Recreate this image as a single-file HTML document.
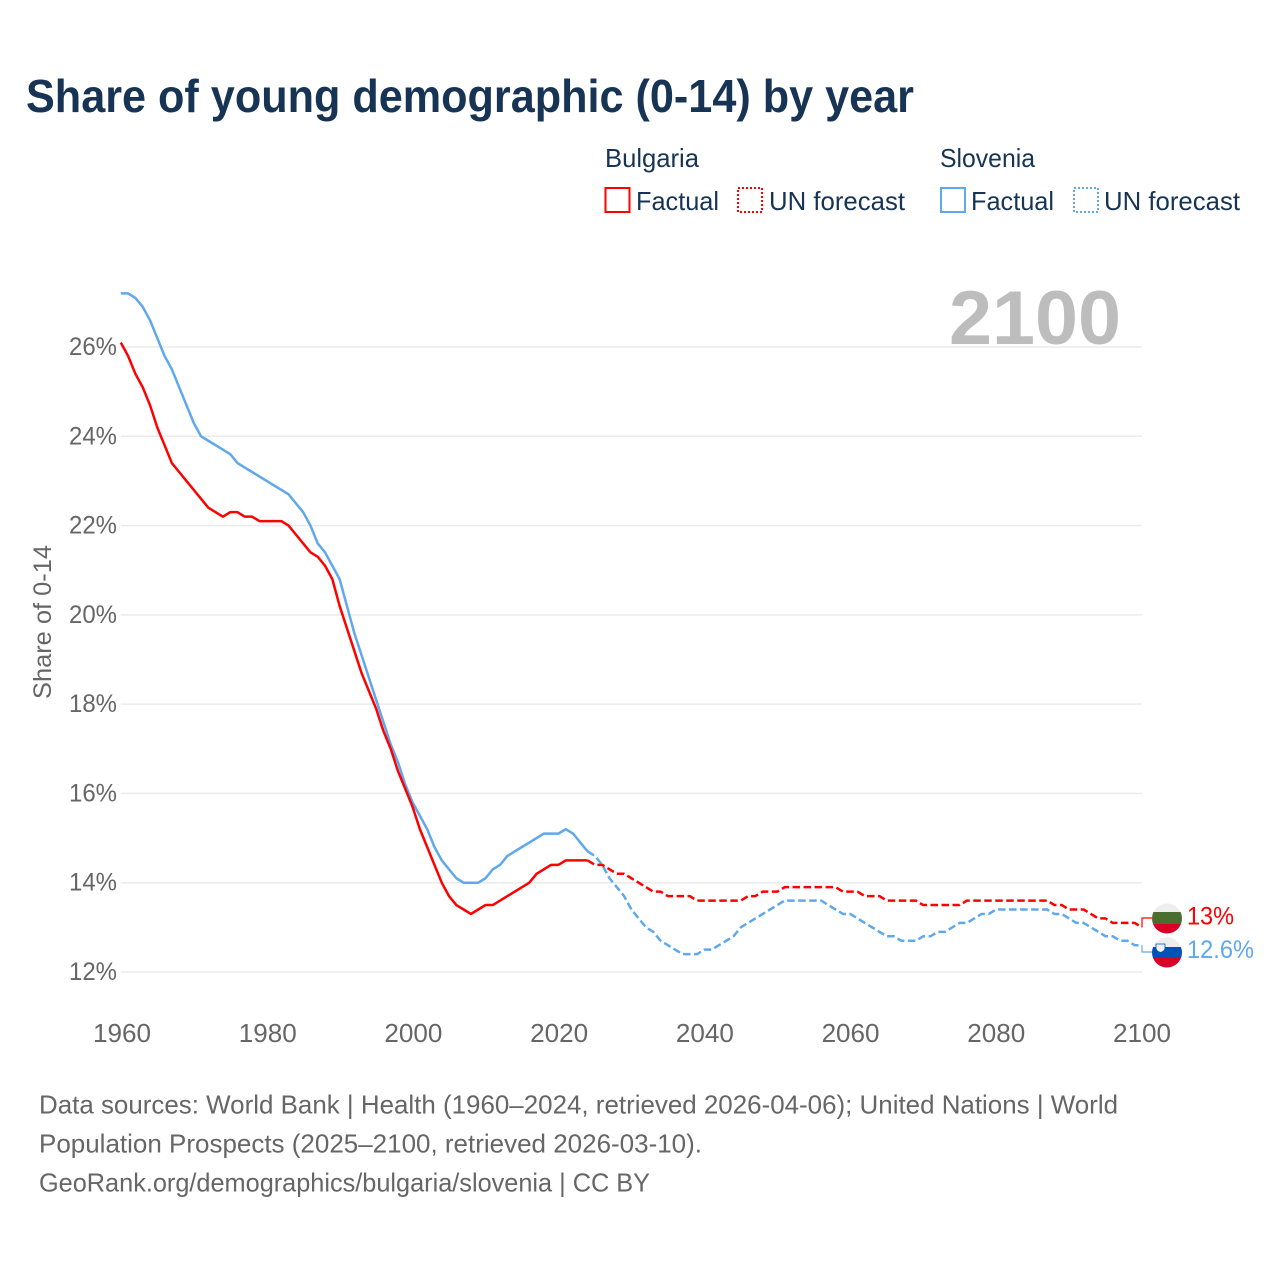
<!DOCTYPE html>
<html lang="en">
<head>
<meta charset="utf-8">
<title>Share of young demographic (0-14) by year</title>
<style>
  html, body { margin: 0; padding: 0; background: #fff; }
  svg { display: block; font-family: "Liberation Sans", sans-serif; }
  .navy { fill: #173454; }
  .grey { fill: #666; }
</style>
</head>
<body>
<svg id="chart" width="1280" height="1280" viewBox="0 0 1280 1280" xmlns="http://www.w3.org/2000/svg">
  <defs>
    <clipPath id="clip-bg"><circle cx="1167" cy="918.500" r="15"/></clipPath>
    <clipPath id="clip-si"><circle cx="1167" cy="952.500" r="15"/></clipPath>
  </defs>
  <rect width="1280" height="1280" fill="#fff"/>

  <text class="navy" x="26" y="112" font-size="46" font-weight="700" textLength="888" lengthAdjust="spacingAndGlyphs">Share of young demographic (0-14) by year</text>

  <g font-size="26">
    <text class="navy" x="605" y="167" textLength="94" lengthAdjust="spacingAndGlyphs">Bulgaria</text>
    <rect x="605.500" y="188" width="24" height="24" fill="none" stroke="#ff0000" stroke-width="2"/>
    <text class="navy" x="636" y="210" textLength="83" lengthAdjust="spacingAndGlyphs">Factual</text>
    <rect x="738" y="188" width="24" height="24" fill="none" stroke="#ff0000" stroke-width="2" stroke-dasharray="2 2"/>
    <text class="navy" x="769" y="210" textLength="136" lengthAdjust="spacingAndGlyphs">UN forecast</text>

    <text class="navy" x="940" y="167" textLength="95" lengthAdjust="spacingAndGlyphs">Slovenia</text>
    <rect x="941" y="188" width="24" height="24" fill="none" stroke="#5fa8ec" stroke-width="2"/>
    <text class="navy" x="971" y="210" textLength="83" lengthAdjust="spacingAndGlyphs">Factual</text>
    <rect x="1074" y="188" width="24" height="24" fill="none" stroke="#5fa8ec" stroke-width="2" stroke-dasharray="2 2"/>
    <text class="navy" x="1104" y="210" textLength="136" lengthAdjust="spacingAndGlyphs">UN forecast</text>
  </g>

  <g id="grid"></g>
  <text x="949" y="344" font-size="76" font-weight="700" fill="#bdbdbd" textLength="172" lengthAdjust="spacingAndGlyphs">2100</text>
  <g id="y-ticks"></g>
  <g id="x-ticks"></g>
  <text class="grey" transform="translate(51,699) rotate(-90)" font-size="25" textLength="154" lengthAdjust="spacingAndGlyphs">Share of 0-14</text>
  <g id="series"></g>

  <g clip-path="url(#clip-bg)">
    <rect x="1150" y="900" width="34" height="12" fill="#eeeeee"/>
    <rect x="1150" y="912" width="34" height="12" fill="#496e2d"/>
    <rect x="1150" y="924" width="34" height="12" fill="#d80027"/>
  </g>
  <g clip-path="url(#clip-si)">
    <rect x="1150" y="935" width="34" height="12" fill="#eeeeee"/>
    <rect x="1150" y="947" width="34" height="10" fill="#0052b4"/>
    <rect x="1150" y="957" width="34" height="12" fill="#d80027"/>
    <path d="M1156 944h9v4q0 3-4.500 4.500q-4.500-1.500-4.500-4.500z" fill="#f0f0f0" stroke="#0052b4" stroke-width="0.800"/>
  </g>

  <text id="label-bg" x="1187" y="924.500" font-size="25" fill="#ff0000" textLength="47" lengthAdjust="spacingAndGlyphs"></text>
  <text id="label-si" x="1187" y="958" font-size="25" fill="#5fa8ec" textLength="67" lengthAdjust="spacingAndGlyphs"></text>

  <g font-size="26" class="grey">
    <text class="grey" x="39" y="1113.500" textLength="1079" lengthAdjust="spacingAndGlyphs">Data sources: World Bank | Health (1960–2024, retrieved 2026-04-06); United Nations | World</text>
    <text class="grey" x="39" y="1152.500" textLength="663" lengthAdjust="spacingAndGlyphs">Population Prospects (2025–2100, retrieved 2026-03-10).</text>
    <text class="grey" x="39" y="1191.500" textLength="611" lengthAdjust="spacingAndGlyphs">GeoRank.org/demographics/bulgaria/slovenia | CC BY</text>
  </g>
</svg>
<script>
const yTickValues = [12, 14, 16, 18, 20, 22, 24, 26];
const xTickYears = [1960, 1980, 2000, 2020, 2040, 2060, 2080, 2100];
const factualStartYear = 1960;
const forecastStartYear = 2025;

const bulgariaFactual = [
  26.1,25.8,25.4,25.1,24.7,24.2,23.8,23.4,23.2,23.0,
  22.8,22.6,22.4,22.3,22.2,22.3,22.3,22.2,22.2,22.1,
  22.1,22.1,22.1,22.0,21.8,21.6,21.4,21.3,21.1,20.8,
  20.2,19.7,19.2,18.7,18.3,17.9,17.4,17.0,16.5,16.1,
  15.7,15.2,14.8,14.4,14.0,13.7,13.5,13.4,13.3,13.4,
  13.5,13.5,13.6,13.7,13.8,13.9,14.0,14.2,14.3,14.4,
  14.4,14.5,14.5,14.5,14.5
];
const bulgariaForecast = [
  14.4,14.4,14.3,14.2,14.2,
  14.1,14.0,13.9,13.8,13.8,13.7,13.7,13.7,13.7,13.6,
  13.6,13.6,13.6,13.6,13.6,13.6,13.7,13.7,13.8,13.8,
  13.8,13.9,13.9,13.9,13.9,13.9,13.9,13.9,13.9,13.8,
  13.8,13.8,13.7,13.7,13.7,13.6,13.6,13.6,13.6,13.6,
  13.5,13.5,13.5,13.5,13.5,13.5,13.6,13.6,13.6,13.6,
  13.6,13.6,13.6,13.6,13.6,13.6,13.6,13.6,13.5,13.5,
  13.4,13.4,13.4,13.3,13.2,13.2,13.1,13.1,13.1,13.1,
  13.0
];
const sloveniaFactual = [
  27.2,27.2,27.1,26.9,26.6,26.2,25.8,25.5,25.1,24.7,
  24.3,24.0,23.9,23.8,23.7,23.6,23.4,23.3,23.2,23.1,
  23.0,22.9,22.8,22.7,22.5,22.3,22.0,21.6,21.4,21.1,
  20.8,20.2,19.6,19.1,18.6,18.1,17.6,17.1,16.7,16.2,
  15.8,15.5,15.2,14.8,14.5,14.3,14.1,14.0,14.0,14.0,
  14.1,14.3,14.4,14.6,14.7,14.8,14.9,15.0,15.1,15.1,
  15.1,15.2,15.1,14.9,14.7
];
const sloveniaForecast = [
  14.6,14.4,14.1,13.9,13.7,
  13.4,13.2,13.0,12.9,12.7,12.6,12.5,12.4,12.4,12.4,
  12.5,12.5,12.6,12.7,12.8,13.0,13.1,13.2,13.3,13.4,
  13.5,13.6,13.6,13.6,13.6,13.6,13.6,13.5,13.4,13.3,
  13.3,13.2,13.1,13.0,12.9,12.8,12.8,12.7,12.7,12.7,
  12.8,12.8,12.9,12.9,13.0,13.1,13.1,13.2,13.3,13.3,
  13.4,13.4,13.4,13.4,13.4,13.4,13.4,13.4,13.3,13.3,
  13.2,13.1,13.1,13.0,12.9,12.8,12.8,12.7,12.7,12.6,
  12.6
];

const SVG_NS = 'http://www.w3.org/2000/svg';
const xScale = function (year) { return 120.8 + (year - 1960) * (1021.2 / 140); };
const yScale = function (value) { return 972 - (value - 12) * (625 / 14); };

function seriesPoints(values, startYear) {
  return values.map(function (v, i) {
    return xScale(startYear + i).toFixed(2) + ',' + yScale(v).toFixed(2);
  });
}

const gridGroup = document.getElementById('grid');
const yTickGroup = document.getElementById('y-ticks');
yTickValues.forEach(function (v) {
  const line = document.createElementNS(SVG_NS, 'line');
  
  
  line.setAttribute('x1', xScale(1960));
  line.setAttribute('x2', xScale(2100));
  line.setAttribute('y1', yScale(v));
  line.setAttribute('y2', yScale(v));
  line.setAttribute('stroke', '#ebebeb');
  line.setAttribute('stroke-width', '1.5');
  gridGroup.appendChild(line);

  const label = document.createElementNS(SVG_NS, 'text');
  
  
  label.setAttribute('x', 117);
  label.setAttribute('y', yScale(v) + 8);
  label.setAttribute('text-anchor', 'end');
  label.setAttribute('font-size', '25');
  label.setAttribute('fill', '#666');
  label.setAttribute('textLength', '48');
  label.setAttribute('lengthAdjust', 'spacingAndGlyphs');
  label.textContent = v + '%';
  yTickGroup.appendChild(label);
});

const xTickGroup = document.getElementById('x-ticks');
xTickYears.forEach(function (year) {
  const label = document.createElementNS(SVG_NS, 'text');
  
  
  label.setAttribute('x', 122 + (year - 1960) * (1020 / 140));
  label.setAttribute('y', 1042);
  label.setAttribute('text-anchor', 'middle');
  label.setAttribute('font-size', '26');
  label.setAttribute('fill', '#666');
  label.setAttribute('textLength', '58');
  label.setAttribute('lengthAdjust', 'spacingAndGlyphs');
  label.textContent = year;
  xTickGroup.appendChild(label);
});

const seriesGroup = document.getElementById('series');

function addLine(name, points, color, dash, width) {
  const line = document.createElementNS(SVG_NS, 'polyline');
  
  
  line.setAttribute('points', points.join(' '));
  line.setAttribute('fill', 'none');
  line.setAttribute('stroke', color);
  line.setAttribute('stroke-width', width);
  line.setAttribute('stroke-linejoin', 'round');
  if (dash) line.setAttribute('stroke-dasharray', dash);
  seriesGroup.appendChild(line);
}

const RED = '#ff0000';
const BLUE = '#5fa8ec';

function forecastPoints(factual, forecast) {
  const joinPoint = seriesPoints(factual, factualStartYear).slice(-1);
  return joinPoint.concat(seriesPoints(forecast, forecastStartYear));
}

addLine('line-slovenia-factual', seriesPoints(sloveniaFactual, factualStartYear), BLUE, null, 2.5);
addLine('line-slovenia-forecast', forecastPoints(sloveniaFactual, sloveniaForecast), BLUE, '7.5 3.5', 2.5);
addLine('line-bulgaria-factual', seriesPoints(bulgariaFactual, factualStartYear), RED, null, 2.5);
addLine('line-bulgaria-forecast', forecastPoints(bulgariaFactual, bulgariaForecast), RED, '7.5 3.5', 2.5);

function addConnector(name, lastValue, flagY, color) {
  const endX = xScale(2100);
  addLine(name, [endX + ',' + yScale(lastValue), endX + ',' + flagY, '1152,' + flagY], color, null, 1.2);
}
addConnector('connector-bulgaria', bulgariaForecast[bulgariaForecast.length - 1], 918, RED);
addConnector('connector-slovenia', sloveniaForecast[sloveniaForecast.length - 1], 952, BLUE);

document.getElementById('label-bg').textContent = bulgariaForecast[bulgariaForecast.length - 1] + '%';
document.getElementById('label-si').textContent = sloveniaForecast[sloveniaForecast.length - 1] + '%';
</script>
</body>
</html>
